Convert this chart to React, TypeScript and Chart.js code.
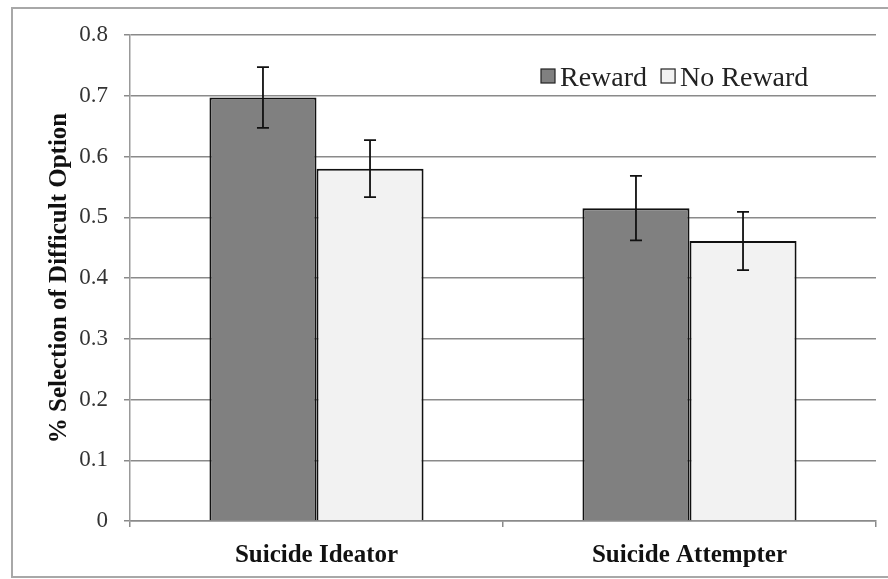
import React, { useEffect, useRef } from "react";
import { Chart, registerables } from "chart.js";

Chart.register(...registerables);

const categories = ["Suicide Ideator", "Suicide Attempter"];
const seriesNames = ["Reward", "No Reward"];
const rewardValues = [0.697, 0.515];
const noRewardValues = [0.58, 0.461];
const rewardErrors = [0.05, 0.053];
const noRewardErrors = [0.047, 0.048];
const yTickLabels = ["0", "0.1", "0.2", "0.3", "0.4", "0.5", "0.6", "0.7", "0.8"];
const yTitle = "% Selection of Difficult Option";

const SERIF = "'Liberation Serif', 'Times New Roman', serif";

const framePlugin = {
  id: "frame",
  beforeDraw(chart: any) {
    const ctx = chart.ctx;
    ctx.save();
    ctx.fillStyle = "#ffffff";
    ctx.fillRect(0, 0, chart.width, chart.height);
    ctx.strokeStyle = "#a8a8a8";
    ctx.lineWidth = 2;
    ctx.beginPath();
    ctx.moveTo(chart.width, 8);
    ctx.lineTo(12, 8);
    ctx.lineTo(12, 577);
    ctx.lineTo(chart.width, 577);
    ctx.stroke();
    ctx.restore();
  },
};

const errorBarPlugin = {
  id: "errorBars",
  afterDatasetsDraw(chart: any) {
    const ctx = chart.ctx;
    const yScale = chart.scales.y;
    const errs = [rewardErrors, noRewardErrors];
    ctx.save();
    ctx.strokeStyle = "#111111";
    ctx.lineWidth = 1.8;
    chart.data.datasets.forEach((ds: any, i: number) => {
      const meta = chart.getDatasetMeta(i);
      meta.data.forEach((el: any, j: number) => {
        const v = ds.data[j];
        const e = errs[i][j];
        const yT = yScale.getPixelForValue(v + e);
        const yB = yScale.getPixelForValue(v - e);
        const x = el.x;
        ctx.beginPath();
        ctx.moveTo(x, yT);
        ctx.lineTo(x, yB);
        ctx.moveTo(x - 6, yT);
        ctx.lineTo(x + 6, yT);
        ctx.moveTo(x - 6, yB);
        ctx.lineTo(x + 6, yB);
        ctx.stroke();
      });
    });
    ctx.restore();
  },
};

const legendPlugin = {
  id: "customLegend",
  afterDraw(chart: any) {
    const ctx = chart.ctx;
    const area = chart.chartArea;
    let x = area.right - 335;
    const y = area.top + 44;
    ctx.save();
    ctx.font = `28px ${SERIF}`;
    ctx.textBaseline = "middle";
    chart.data.datasets.forEach((ds: any) => {
      ctx.fillStyle = ds.backgroundColor;
      ctx.fillRect(x, y - 10, 14, 14);
      ctx.strokeStyle = "#222";
      ctx.lineWidth = 1.2;
      ctx.strokeRect(x, y - 10, 14, 14);
      ctx.fillStyle = "#222";
      ctx.fillText(ds.label, x + 19, y);
      x += 19 + ctx.measureText(ds.label).width + 14;
    });
    ctx.restore();
  },
};

export default function App() {
  const ref = useRef<HTMLCanvasElement | null>(null);
  useEffect(() => {
    if (!ref.current) return;
    const chart = new Chart(ref.current, {
      type: "bar",
      data: {
        labels: categories,
        datasets: [
          {
            label: seriesNames[0],
            data: rewardValues,
            backgroundColor: "#808080",
            borderColor: "#111111",
            borderWidth: 2,
          },
          {
            label: seriesNames[1],
            data: noRewardValues,
            backgroundColor: "#f2f2f2",
            borderColor: "#111111",
            borderWidth: 2,
          },
        ],
      },
      plugins: [framePlugin, errorBarPlugin, legendPlugin],
      options: {
        animation: false,
        responsive: false,
        maintainAspectRatio: false,
        devicePixelRatio: 1,
        layout: { padding: { left: 12, right: 12, top: 35, bottom: 0 } },
        datasets: {
          bar: { categoryPercentage: 0.574, barPercentage: 1.0 },
        },
        plugins: {
          legend: { display: false },
          tooltip: { enabled: false },
        },
        scales: {
          x: {
            afterFit: (s: any) => {
              s.height = 58;
            },
            grid: {
              display: true,
              drawOnChartArea: false,
              drawTicks: true,
              tickLength: 6,
              color: "#8a8a8a",
              lineWidth: 1.5,
              offset: true,
            },
            border: { display: true, color: "#8a8a8a", width: 1.5 },
            ticks: {
              padding: 14,
              color: "#111",
              font: { family: SERIF, size: 25, weight: "bold" },
            },
          },
          y: {
            min: 0,
            max: 0.8,
            afterFit: (s: any) => {
              s.width = 118;
            },
            grid: {
              color: "#8a8a8a",
              lineWidth: 1.5,
              tickLength: 6,
            },
            border: { display: true, color: "#999", width: 1.5 },
            ticks: {
              stepSize: 0.1,
              padding: 16,
              color: "#333",
              font: { family: SERIF, size: 23 },
              callback: (_v: any, i: number) => yTickLabels[i],
            },
            title: {
              display: true,
              text: yTitle,
              color: "#111",
              padding: { top: 33, bottom: 0 },
              font: { family: SERIF, size: 25, weight: "bold" },
            },
          },
        },
      },
    });
    return () => chart.destroy();
  }, []);
  return (
    <div style={{ position: "fixed", left: 0, top: 0, width: 888, height: 579 }}>
      <canvas ref={ref} width={888} height={579} style={{ width: 888, height: 579 }} />
    </div>
  );
}
